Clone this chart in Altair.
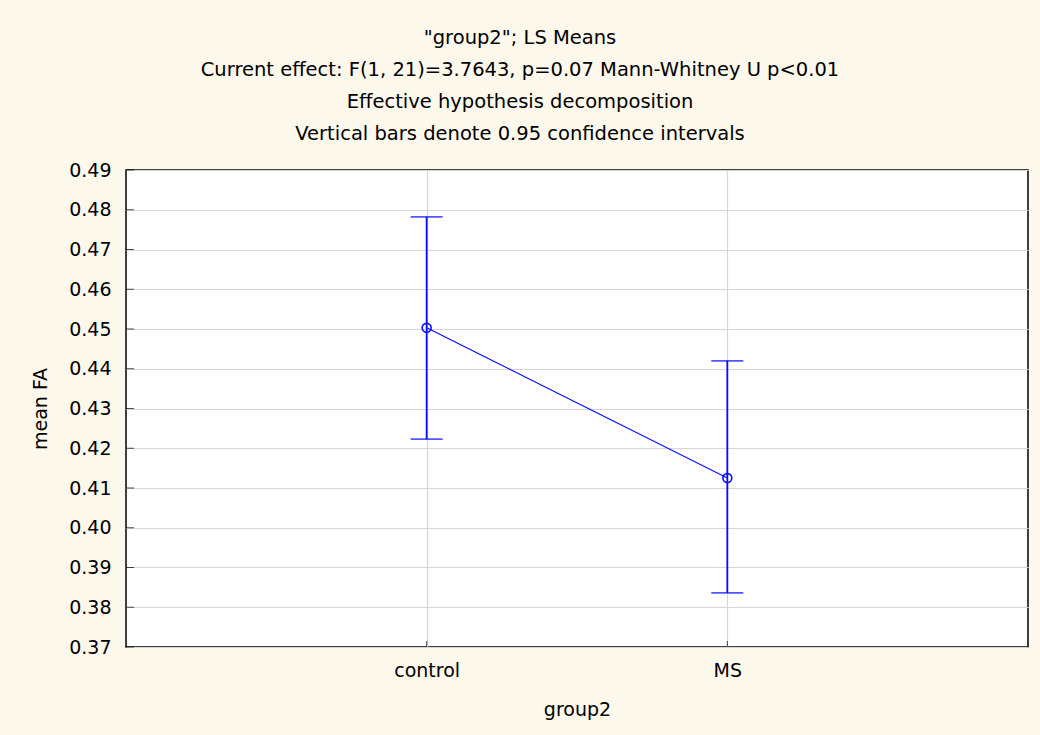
import altair as alt
import pandas as pd

# ---- data ----
groups = ["control", "MS"]
group_pos = [1, 2]
means = [0.4503, 0.4125]
ci_low = [0.4223, 0.3836]
ci_high = [0.4782, 0.4420]
y_ticks = [0.37, 0.38, 0.39, 0.40, 0.41, 0.42, 0.43, 0.44, 0.45, 0.46, 0.47, 0.48, 0.49]

title_lines = [
    '"group2"; LS Means',
    "Current effect: F(1, 21)=3.7643, p=0.07 Mann-Whitney U p<0.01",
    "Effective hypothesis decomposition",
    "Vertical bars denote 0.95 confidence intervals",
]

df = pd.DataFrame({"group": groups, "pos": group_pos, "mean": means,
                   "lo": ci_low, "hi": ci_high})
ticks_df = pd.DataFrame({"t": y_ticks})

FONT = "DejaVu Sans"
BLUE = "#0A0AFF"
BG = "#FDF8EC"
GRID = "#D6D6D6"

label_expr = "datum.value == 1 ? 'control' : datum.value == 2 ? 'MS' : ''"

x_scale = alt.Scale(domain=[0, 3], nice=False, zero=False)
y_scale = alt.Scale(domain=[0.37, 0.49], nice=False, zero=False)

x_enc = alt.X("pos:Q", scale=x_scale,
              axis=alt.Axis(values=group_pos, labelExpr=label_expr, title="group2",
                            grid=True, gridColor=GRID, gridWidth=1.2,
                            ticks=False, domain=False, labelPadding=14,
                            titlePadding=20, labelFont=FONT, titleFont=FONT,
                            labelFontSize=19, titleFontSize=19,
                            labelColor="black", titleColor="black",
                            tickCount=10,
                            labelOverlap=False, titleFontWeight="normal"))

base = alt.Chart(df)

line = base.mark_line(color=BLUE, strokeWidth=1.2).encode(
    x=x_enc,
    y=alt.Y("mean:Q", scale=y_scale,
            axis=alt.Axis(values=y_ticks, format=".2f", title="mean FA",
                          grid=True, gridColor=GRID, gridWidth=1.2,
                          ticks=False, domain=False, labelPadding=15,
                          titlePadding=18, labelFont=FONT, titleFont=FONT,
                          labelFontSize=19, titleFontSize=19,
                          labelColor="black", titleColor="black",
                          tickCount=30,
                          labelOverlap=False, labelBound=False,
                          titleFontWeight="normal")),
)

rules = base.mark_rule(color=BLUE, strokeWidth=1.8).encode(
    x=alt.X("pos:Q", scale=x_scale), y=alt.Y("lo:Q", scale=y_scale), y2="hi:Q"
)
cap_lo = base.mark_tick(color=BLUE, orient="horizontal", size=32, thickness=1.8).encode(
    x=alt.X("pos:Q", scale=x_scale), y=alt.Y("lo:Q", scale=y_scale)
)
cap_hi = base.mark_tick(color=BLUE, orient="horizontal", size=32, thickness=1.8).encode(
    x=alt.X("pos:Q", scale=x_scale), y=alt.Y("hi:Q", scale=y_scale)
)
points = base.mark_point(color=BLUE, shape="circle", filled=False, size=80,
                         strokeWidth=1.6, opacity=1).encode(
    x=alt.X("pos:Q", scale=x_scale), y=alt.Y("mean:Q", scale=y_scale)
)

# inward axis ticks
y_tick_marks = alt.Chart(ticks_df).mark_tick(
    color="black", orient="horizontal", size=8, thickness=1, xOffset=4
).encode(x=alt.XDatum(0, scale=x_scale), y=alt.Y("t:Q", scale=y_scale))

x_tick_marks = base.mark_tick(
    color="black", orient="vertical", size=6, thickness=1, yOffset=-3
).encode(x=alt.X("pos:Q", scale=x_scale), y=alt.YDatum(0.37, scale=y_scale))

chart = alt.layer(line, rules, cap_lo, cap_hi, points, y_tick_marks, x_tick_marks).properties(
    width=902, height=477,
    title=alt.TitleParams(text=title_lines, font=FONT, fontSize=19.5, fontWeight="normal",
                          color="black", anchor="middle", lineHeight=32.3,
                          offset=16, dx=-57),
    background=BG,
    padding={"left": 126, "top": 170, "right": 12, "bottom": 88},
    autosize=alt.AutoSizeParams(type="none"),
).configure_view(stroke="black", strokeWidth=1.5, fill="white")

chart.save("out.html", embed_options={"renderer": "svg", "actions": False})
